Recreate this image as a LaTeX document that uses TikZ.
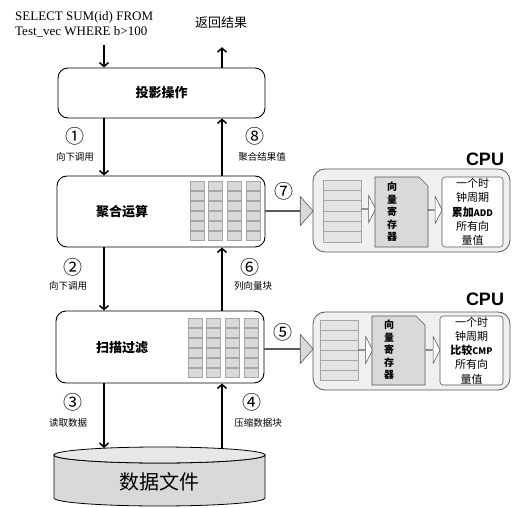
\documentclass[tikz,border=0pt]{standalone}
\usepackage{fontspec}
\setmainfont{Liberation Serif}
\setsansfont{Liberation Sans}
\newfontfamily\cjk{Noto Sans CJK SC}
\usepackage{tikz}
\usetikzlibrary{arrows.meta}
\usetikzlibrary{calc}
\usetikzlibrary{shapes.arrows}
\usetikzlibrary{positioning}
\usepackage{xcolor}
\definecolor{blkgray}{HTML}{D9D9D9}
\definecolor{edgegray}{HTML}{A6A6A6}
\definecolor{darkedge}{HTML}{595959}
\definecolor{cpufill}{HTML}{F0F0F0}
\definecolor{barfill}{HTML}{E4E4E4}

\begin{document}
\begin{tikzpicture}[
		x=1pt, y=-1pt,
		opbox/.style={draw, rounded corners=10pt, line width=0.9pt, fill=white},
		boxlabel/.style={font=\cjk\bfseries\fontsize{13}{13}\selectfont, inner sep=0pt},
		steplabel/.style={font=\cjk\fontsize{9.5}{9.5}\selectfont, inner sep=0pt},
		stepnum/.style={font=\cjk\fontsize{19}{19}\selectfont, inner sep=0pt},
		flow/.style={line width=1.5pt, -{Straight Barb[length=4pt, width=9pt]}},
		blk/.style={draw=edgegray, fill=blkgray, line width=0.5pt},
		cpubox/.style={draw=darkedge, fill=cpufill, rounded corners=12pt, line width=0.8pt},
		cpulabel/.style={font=\sffamily\bfseries\fontsize{18}{18}\selectfont, inner sep=0pt},
		bar/.style={draw=edgegray, fill=barfill, line width=0.5pt},
		reg/.style={draw=darkedge, fill=blkgray, line width=0.6pt},
		regtext/.style={font=\cjk\bfseries\fontsize{10}{12.5}\selectfont, align=center, inner sep=0pt},
		opcell/.style={draw=darkedge, fill=white, rounded corners=3pt, line width=0.6pt,
			font=\cjk\fontsize{11}{14.3}\selectfont, align=center, inner sep=0pt},
		fatarrow/.style={single arrow, draw=darkedge, fill=blkgray, line width=0.6pt,
			minimum width=29pt, single arrow head extend=8pt, single arrow tip angle=96, inner sep=0pt},
		hollowarrow/.style={single arrow, draw=darkedge, fill=white, line width=0.6pt,
			minimum height=14pt, minimum width=27pt, single arrow head extend=6pt,
			single arrow tip angle=125, inner sep=0pt}
	]
	\useasboundingbox (0,0) rectangle (517,508);

	\node[anchor=west, align=left, inner sep=0pt, font=\fontsize{13}{15}\selectfont] (sql) at (15,24.5)
		{SELECT SUM(id) FROM\\Test\_vec WHERE b>100};
	\node[inner sep=0pt, font=\cjk\fontsize{13}{13}\selectfont] (ret) at (221,23) {返回结果};

	\node[opbox, minimum width=207pt, minimum height=50pt, boxlabel] (proj) at (161.5,93) {投影操作};
	\node[opbox, minimum width=208pt, minimum height=71pt] (agg) at (161,211.5) {};
	\node[boxlabel] (agglabel) at (122,212) {聚合运算};
	\node[opbox, minimum width=208pt, minimum height=72pt] (scan) at (160,347) {};
	\node[boxlabel] (scanlabel) at (122,348) {扫描过滤};

	% column blocks
	\foreach \c in {0,...,3}
		\foreach \r in {0,...,5} {
			\draw[blk] ({190+\c*18.7},{181+\r*10}) rectangle ++(14,9);
			\draw[blk] ({188+\c*18.7},{318+\r*10}) rectangle ++(14,9);
		}

	% data file
	\filldraw[fill=blkgray, draw=black, line width=0.8pt] (54,455) -- (54,498)
		arc[start angle=180, end angle=0, x radius=105.5, y radius=8] -- (265,455)
		arc[start angle=0, end angle=180, x radius=105.5, y radius=8] -- cycle;
	\filldraw[fill=blkgray!60, draw=black, line width=0.8pt] (159.5,455) ellipse [x radius=105.5, y radius=8];
	\node[inner sep=0pt, font=\cjk\fontsize{20}{20}\selectfont] (file) at (159.5,482) {数据文件};
	\coordinate (filetop) at (159.5,448);

	\coordinate (down) at (104,0);
	\coordinate (up) at (222,0);
	\draw[flow, shorten <=7pt] (sql.south -| down) -- (proj.north -| down);
	\draw[flow, shorten >=18pt] (proj.north -| up) -- (ret.south -| up);
	\draw[flow] (proj.south -| down) -- (agg.north -| down);
	\draw[flow] (agg.north -| up) -- (proj.south -| up);
	\draw[flow] (agg.south -| down) -- (scan.north -| down);
	\draw[flow] (scan.north -| up) -- (agg.south -| up);
	\draw[flow] (scan.south -| down) -- (filetop -| down);
	\draw[flow] (filetop -| up) -- (scan.south -| up);

	\node[stepnum] (n1) at (75,136) {①};
	\node[steplabel] (l1) at (75,157) {向下调用};
	\node[stepnum] (n8) at (255,136) {⑧};
	\node[steplabel] (l8) at (262,157) {聚合结果值};
	\node[stepnum] (n2) at (73,267) {②};
	\node[steplabel] (l2) at (68,286) {向下调用};
	\node[stepnum] (n6) at (250,267) {⑥};
	\node[steplabel] (l6) at (253,286) {列向量块};
	\node[stepnum] (n3) at (73,402) {③};
	\node[steplabel] (l3) at (68,423) {读取数据};
	\node[stepnum] (n4) at (252,402) {④};
	\node[steplabel] (l4) at (258,423) {压缩数据块};

	% the two CPUs
	\node[cpubox, minimum width=197pt, minimum height=83pt] (cpu1) at (411.5,210.5) {};
	\node[cpulabel] (cpu1t) at (485,159) {CPU};
	\node[cpubox, minimum width=197pt, minimum height=78pt] (cpu2) at (411.5,351) {};
	\node[cpulabel] (cpu2t) at (485,299) {CPU};

	\node[fatarrow, minimum height=48pt] (push1) at ($(agg.east)!0.5!(cpu1.west)$) {};
	\node[stepnum] (n7) at (284,191) {⑦};
	\node[fatarrow, minimum height=49pt] (push2) at ($(scan.east)!0.5!(cpu2.west)$) {};
	\node[stepnum] (n5) at (283,332) {⑤};

	\foreach \r in {0,...,5} {
		\draw[bar] (323,{180+\r*10.3}) rectangle ++(38,10.3);
		\draw[bar] (320,{320+\r*10}) rectangle ++(38,10);
	}
	\node[hollowarrow] (in1) at (368.5,209) {};
	\node[hollowarrow] (in2) at (365.5,350) {};

	\draw[reg] (375,177) -- (419,177) -- (428,186) -- (428,247) -- (375,247) -- cycle;
	\node[regtext] (reg1) at (392,212) {向\\量\\寄\\存\\器};
	\draw[reg] (372,316) -- (416,316) -- (425,325) -- (425,385) -- (372,385) -- cycle;
	\node[regtext] (reg2) at (389,350) {向\\量\\寄\\存\\器};

	\node[hollowarrow] (out1) at (435,210) {};
	\node[hollowarrow] (out2) at (433,350) {};

	\node[opcell, minimum width=61pt, minimum height=70pt] (add) at (472.5,212)
		{一个时\\钟周期\\{\bfseries 累加\fontsize{9}{9}\selectfont ADD}\\所有向\\量值};
	\node[opcell, minimum width=63pt, minimum height=69pt] (cmp) at (471.5,350.5)
		{一个时\\钟周期\\{\bfseries 比较\fontsize{9}{9}\selectfont CMP}\\所有向\\量值};
\end{tikzpicture}
\end{document}
